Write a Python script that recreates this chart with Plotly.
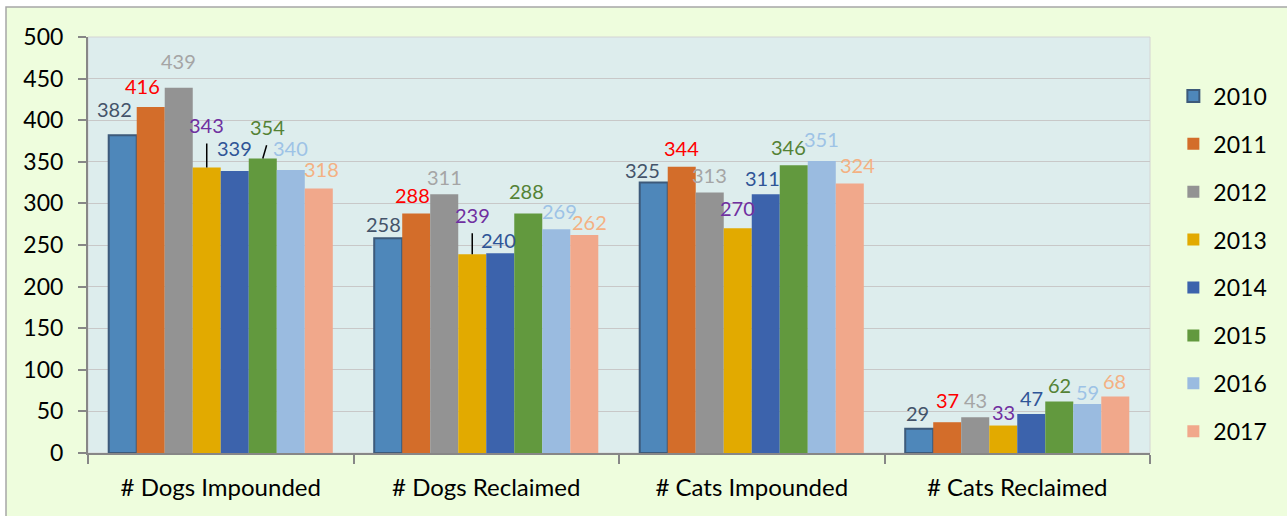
import plotly.graph_objects as go

# Shelter intake / reclaim counts by year
categories = ["# Dogs Impounded", "# Dogs Reclaimed", "# Cats Impounded", "# Cats Reclaimed"]
years = ["2010", "2011", "2012", "2013", "2014", "2015", "2016", "2017"]

v2010 = [382, 258, 325, 29]
v2011 = [416, 288, 344, 37]
v2012 = [439, 311, 313, 43]
v2013 = [343, 239, 270, 33]
v2014 = [339, 240, 311, 47]
v2015 = [354, 288, 346, 62]
v2016 = [340, 269, 351, 59]
v2017 = [318, 262, 324, 68]
series = [v2010, v2011, v2012, v2013, v2014, v2015, v2016, v2017]

# styling
bar_colors = ["#4E87BA", "#D36D2A", "#939393", "#E2AA00", "#3C63AC", "#62993E", "#9ABBE0", "#F1A88B"]
label_colors = ["#44546A", "#FF0000", "#A5A5A5", "#7030A0", "#2F5597", "#548235", "#9DC3E6", "#F4B183"]
FONT = "Lato, Liberation Sans, Arial, sans-serif"
LABEL_SIZE = 20
BARGAP = 0.156
N = len(series)
bar_w = (1 - BARGAP) / N

# per-label nudges in pixels (rows = years, columns = categories)
label_dx = [
    [-8, -5, -11, -2],
    [-8, -4, 0, 0],
    [0, 0, 0, 0],
    [0, 0, 0, 0],
    [0, -2, -3, 0],
    [0, -2, -5, 0],
    [0, 3, 0, 0],
    [3, 5, 8, -1],
]
label_gap = [
    [17, 5, 4, 7],
    [12, 9, 10, 13],
    [18, 8, 9, 8],
    [0, 0, 11, 5],
    [14, 4, 7, 7],
    [0, 13, 9, 7],
    [13, 9, 13, 3],
    [10, 4, 9, 6],
]
BASE_OFFSET = 5  # baseline sits this far above the bottom of a text box

# labels lifted above their bars with a short leader line: (series, category) -> (dx, dy, standoff)
leaders = {(3, 0): (0, -29, 5), (3, 1): (0, -25, 4), (5, 0): (5, -17, 4)}

fig = go.Figure()
for i, (yr, vals) in enumerate(zip(years, series)):
    fig.add_trace(go.Bar(
        name=yr, x=categories, y=vals,
        marker=dict(color=bar_colors[i],
                    line=dict(color="#3D5A7A" if i == 0 else bar_colors[i], width=2 if i == 0 else 0)),
        legendgroup=yr,
    ))

annotations = []
for i, vals in enumerate(series):
    for c, v in enumerate(vals):
        xpos = c + (i - (N - 1) / 2) * bar_w
        if (i, c) in leaders:
            dx, dy, so = leaders[(i, c)]
            annotations.append(dict(
                x=xpos, y=v, xref="x", yref="y", text=str(v),
                showarrow=True, arrowhead=0, arrowwidth=1.5, arrowcolor="#000000",
                ax=dx, ay=dy, yanchor="bottom", startstandoff=so,
                font=dict(family=FONT, size=LABEL_SIZE, color=label_colors[i]),
            ))
        else:
            annotations.append(dict(
                x=xpos, y=v, xref="x", yref="y", text=str(v),
                showarrow=False, yanchor="bottom",
                xshift=label_dx[i][c], yshift=label_gap[i][c] - BASE_OFFSET,
                font=dict(family=FONT, size=LABEL_SIZE, color=label_colors[i]),
            ))

W, H = 1287, 516
ML, MR, MT, MB = 88, 137, 37, 63
pw, ph = W - ML - MR, H - MT - MB

shapes = [
    # outer panel with its border
    dict(type="rect", xref="paper", yref="paper", layer="below",
         x0=(6 - ML) / pw, x1=1.3, y0=-0.3, y1=(H - MB - 7) / ph,
         fillcolor="#EEFDDD", line=dict(color="#A6A6A6", width=1.5)),
    # plot area
    dict(type="rect", xref="paper", yref="paper", layer="below",
         x0=0, x1=1, y0=0, y1=1,
         fillcolor="#DDEDED", line=dict(color="#D4D4D4", width=1)),
]

fig.update_layout(
    width=W, height=H,
    margin=dict(l=ML, r=MR, t=MT, b=MB),
    paper_bgcolor="#FFFFFF", plot_bgcolor="#DDEDED",
    barmode="group", bargap=BARGAP, bargroupgap=0,
    font=dict(family=FONT, size=23, color="#000000"),
    shapes=shapes, annotations=annotations,
    legend=dict(x=1.022, xanchor="left", y=0.910, yanchor="top",
                tracegroupgap=15, font=dict(family=FONT, size=23, color="#000000"),
                bgcolor="rgba(0,0,0,0)"),
    showlegend=True,
)
fig.update_xaxes(
    type="category", showline=True, linecolor="#878787", linewidth=2,
    ticks="outside", tickson="boundaries", ticklen=9, tickcolor="#878787", tickwidth=1.5,
    showgrid=False, tickfont=dict(family=FONT, size=24), ticklabelstandoff=12,
)
fig.update_yaxes(
    range=[0, 500], dtick=50, showline=True, linecolor="#878787", linewidth=2,
    ticks="outside", ticklen=8, tickcolor="#878787", tickwidth=1.5,
    gridcolor="#C8C8C8", gridwidth=1, zeroline=False,
    tickfont=dict(family=FONT, size=23), ticklabelstandoff=10,
)

fig.write_html("out.html")
